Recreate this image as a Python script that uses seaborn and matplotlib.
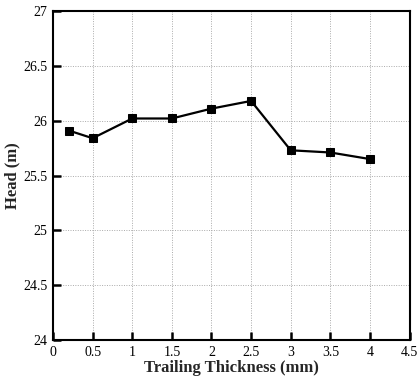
import matplotlib
matplotlib.use("Agg")
import matplotlib.pyplot as plt
import seaborn as sns
import pandas as pd

thickness = [0.2, 0.5, 1.0, 1.5, 2.0, 2.5, 3.0, 3.5, 4.0]
head = [25.91, 25.84, 26.02, 26.02, 26.11, 26.18, 25.73, 25.71, 25.65]
x_ticks = [0, 0.5, 1, 1.5, 2, 2.5, 3, 3.5, 4, 4.5]
y_ticks = [24, 24.5, 25, 25.5, 26, 26.5, 27]

sns.set_style("white")
plt.rcParams["font.family"] = ["Liberation Serif", "DejaVu Serif"]

df = pd.DataFrame({"Trailing Thickness (mm)": thickness, "Head (m)": head})

fig = plt.figure(figsize=(4.19, 3.76), dpi=100)
ax = fig.add_axes([0.1265, 0.0957, 0.851, 0.875])

sns.lineplot(data=df, x="Trailing Thickness (mm)", y="Head (m)", ax=ax,
             color="black", linewidth=1.6, marker="s", markersize=6,
             markeredgecolor="black", markerfacecolor="black")

ax.set_xlim(0, 4.5)
ax.set_ylim(24, 27)
ax.set_xticks(x_ticks)
ax.set_xticklabels([f"{t:g}" for t in x_ticks])
ax.set_yticks(y_ticks)
ax.set_yticklabels([f"{t:g}" for t in y_ticks])

ax.grid(True, linestyle=(0, (1, 1.5)), color="#aaaaaa", linewidth=0.7)
for s in ax.spines.values():
    s.set_linewidth(1.5)
    s.set_color("black")

ax.tick_params(axis="both", direction="in", length=6, width=1.8,
               labelsize=10, colors="black", pad=4)
ax.tick_params(top=False, right=False, bottom=True, left=True)

ax.set_xlabel("Trailing Thickness (mm)", fontsize=12, fontweight="bold", labelpad=1)
ax.set_ylabel("Head (m)", fontsize=12, fontweight="bold", labelpad=2)

fig.savefig("out.png", dpi=100)
